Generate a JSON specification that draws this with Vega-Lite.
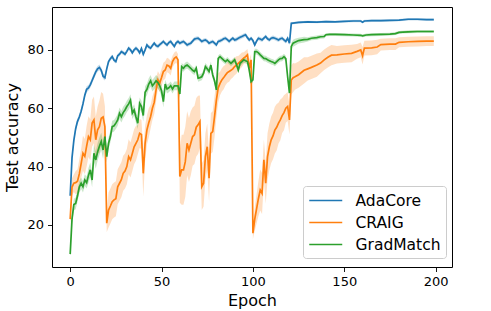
{
"$schema": "https://vega.github.io/schema/vega-lite/v6.json",
"width": 400, "height": 260,
"autosize": {"type": "none"},
"padding": {"left": 52, "top": 7, "right": 39, "bottom": 44},
"background": "white",
"config": {
  "view": {"stroke": "black", "strokeWidth": 1},
  "font": "DejaVu Sans",
  "axis": {"domain": false, "grid": false, "labelFontSize": 13, "labelColor": "black", "titleFontSize": 16, "titleFontWeight": "normal", "titleColor": "black", "tickColor": "black", "tickSize": 4.5, "tickWidth": 0.9, "labelPadding": 4, "labelFont": "DejaVu Sans", "titleFont": "DejaVu Sans"},
  "legend": {"labelFont": "DejaVu Sans"}
},
"data": {"values": [
{"s":"AdaCore","e":0,"m":30,"lo":29,"hi":31},
{"s":"AdaCore","e":1,"m":43,"lo":41.8,"hi":44.2},
{"s":"AdaCore","e":2,"m":49,"lo":47.8,"hi":50.2},
{"s":"AdaCore","e":3,"m":53,"lo":52,"hi":54},
{"s":"AdaCore","e":4,"m":55.5,"lo":54.5,"hi":56.5},
{"s":"AdaCore","e":5,"m":57,"lo":56,"hi":58},
{"s":"AdaCore","e":6,"m":59,"lo":58,"hi":60},
{"s":"AdaCore","e":7,"m":61.5,"lo":60.5,"hi":62.5},
{"s":"AdaCore","e":8,"m":64.5,"lo":63.5,"hi":65.5},
{"s":"AdaCore","e":9,"m":66.5,"lo":65.5,"hi":67.5},
{"s":"AdaCore","e":10,"m":67,"lo":66,"hi":68},
{"s":"AdaCore","e":11,"m":68,"lo":67,"hi":69},
{"s":"AdaCore","e":12,"m":69.5,"lo":68.5,"hi":70.5},
{"s":"AdaCore","e":13,"m":71,"lo":70,"hi":72},
{"s":"AdaCore","e":14,"m":72.5,"lo":71.5,"hi":73.5},
{"s":"AdaCore","e":15,"m":73.5,"lo":72.5,"hi":74.5},
{"s":"AdaCore","e":16,"m":74,"lo":73,"hi":75},
{"s":"AdaCore","e":17,"m":73,"lo":72,"hi":74},
{"s":"AdaCore","e":18,"m":71,"lo":70,"hi":72},
{"s":"AdaCore","e":19,"m":70.5,"lo":69.5,"hi":71.5},
{"s":"AdaCore","e":20,"m":73.5,"lo":72.5,"hi":74.5},
{"s":"AdaCore","e":21,"m":76,"lo":75.3,"hi":76.7},
{"s":"AdaCore","e":22,"m":77,"lo":76.3,"hi":77.7},
{"s":"AdaCore","e":23,"m":77.7,"lo":77,"hi":78.4},
{"s":"AdaCore","e":24,"m":76.5,"lo":75.8,"hi":77.2},
{"s":"AdaCore","e":25,"m":76,"lo":75.3,"hi":76.7},
{"s":"AdaCore","e":26,"m":78,"lo":77.3,"hi":78.7},
{"s":"AdaCore","e":27,"m":78.5,"lo":77.8,"hi":79.2},
{"s":"AdaCore","e":28,"m":79.4,"lo":78.7,"hi":80.1},
{"s":"AdaCore","e":29,"m":79,"lo":78.3,"hi":79.7},
{"s":"AdaCore","e":30,"m":78.5,"lo":77.8,"hi":79.2},
{"s":"AdaCore","e":31,"m":79.5,"lo":78.8,"hi":80.2},
{"s":"AdaCore","e":32,"m":80.6,"lo":79.9,"hi":81.3},
{"s":"AdaCore","e":33,"m":80,"lo":79.3,"hi":80.7},
{"s":"AdaCore","e":34,"m":79,"lo":78.3,"hi":79.7},
{"s":"AdaCore","e":35,"m":80,"lo":79.3,"hi":80.7},
{"s":"AdaCore","e":36,"m":80.6,"lo":79.9,"hi":81.3},
{"s":"AdaCore","e":37,"m":80,"lo":79.3,"hi":80.7},
{"s":"AdaCore","e":38,"m":79,"lo":78.3,"hi":79.7},
{"s":"AdaCore","e":39,"m":80.5,"lo":79.8,"hi":81.2},
{"s":"AdaCore","e":40,"m":78.5,"lo":77.8,"hi":79.2},
{"s":"AdaCore","e":41,"m":80,"lo":79.3,"hi":80.7},
{"s":"AdaCore","e":42,"m":81.7,"lo":81,"hi":82.4},
{"s":"AdaCore","e":43,"m":81,"lo":80.3,"hi":81.7},
{"s":"AdaCore","e":44,"m":80.6,"lo":79.9,"hi":81.3},
{"s":"AdaCore","e":45,"m":81.5,"lo":80.8,"hi":82.2},
{"s":"AdaCore","e":46,"m":82.3,"lo":81.6,"hi":83},
{"s":"AdaCore","e":47,"m":81.5,"lo":80.8,"hi":82.2},
{"s":"AdaCore","e":48,"m":81.2,"lo":80.5,"hi":81.9},
{"s":"AdaCore","e":49,"m":81.8,"lo":81.1,"hi":82.5},
{"s":"AdaCore","e":50,"m":82.3,"lo":81.6,"hi":83},
{"s":"AdaCore","e":51,"m":82.9,"lo":82.2,"hi":83.6},
{"s":"AdaCore","e":52,"m":82.2,"lo":81.5,"hi":82.9},
{"s":"AdaCore","e":53,"m":81.7,"lo":81,"hi":82.4},
{"s":"AdaCore","e":54,"m":82.5,"lo":81.8,"hi":83.2},
{"s":"AdaCore","e":55,"m":82.9,"lo":82.2,"hi":83.6},
{"s":"AdaCore","e":56,"m":82,"lo":81.3,"hi":82.7},
{"s":"AdaCore","e":57,"m":81.2,"lo":80.5,"hi":81.9},
{"s":"AdaCore","e":58,"m":82.4,"lo":81.7,"hi":83.1},
{"s":"AdaCore","e":59,"m":82.9,"lo":82.2,"hi":83.6},
{"s":"AdaCore","e":60,"m":82.3,"lo":81.6,"hi":83},
{"s":"AdaCore","e":61,"m":82.6,"lo":81.9,"hi":83.3},
{"s":"AdaCore","e":62,"m":82.9,"lo":82.2,"hi":83.6},
{"s":"AdaCore","e":63,"m":82.3,"lo":81.6,"hi":83},
{"s":"AdaCore","e":64,"m":81.7,"lo":81,"hi":82.4},
{"s":"AdaCore","e":65,"m":82,"lo":81.3,"hi":82.7},
{"s":"AdaCore","e":66,"m":82.3,"lo":81.6,"hi":83},
{"s":"AdaCore","e":67,"m":83,"lo":82.3,"hi":83.7},
{"s":"AdaCore","e":68,"m":83.7,"lo":83,"hi":84.4},
{"s":"AdaCore","e":69,"m":83.9,"lo":83.2,"hi":84.6},
{"s":"AdaCore","e":70,"m":84,"lo":83.3,"hi":84.7},
{"s":"AdaCore","e":71,"m":83.5,"lo":82.8,"hi":84.2},
{"s":"AdaCore","e":72,"m":82.9,"lo":82.2,"hi":83.6},
{"s":"AdaCore","e":73,"m":83.2,"lo":82.5,"hi":83.9},
{"s":"AdaCore","e":74,"m":83.4,"lo":82.7,"hi":84.1},
{"s":"AdaCore","e":75,"m":83,"lo":82.3,"hi":83.7},
{"s":"AdaCore","e":76,"m":82.3,"lo":81.6,"hi":83},
{"s":"AdaCore","e":77,"m":82.6,"lo":81.9,"hi":83.3},
{"s":"AdaCore","e":78,"m":82.9,"lo":82.2,"hi":83.6},
{"s":"AdaCore","e":79,"m":82.3,"lo":81.6,"hi":83},
{"s":"AdaCore","e":80,"m":81.7,"lo":81,"hi":82.4},
{"s":"AdaCore","e":81,"m":82.9,"lo":82.2,"hi":83.6},
{"s":"AdaCore","e":82,"m":83.1,"lo":82.4,"hi":83.8},
{"s":"AdaCore","e":83,"m":83.4,"lo":82.7,"hi":84.1},
{"s":"AdaCore","e":84,"m":83.8,"lo":83.1,"hi":84.5},
{"s":"AdaCore","e":85,"m":84,"lo":83.3,"hi":84.7},
{"s":"AdaCore","e":86,"m":83.5,"lo":82.8,"hi":84.2},
{"s":"AdaCore","e":87,"m":82.9,"lo":82.2,"hi":83.6},
{"s":"AdaCore","e":88,"m":83.5,"lo":82.8,"hi":84.2},
{"s":"AdaCore","e":89,"m":84,"lo":83.3,"hi":84.7},
{"s":"AdaCore","e":90,"m":83.4,"lo":82.7,"hi":84.1},
{"s":"AdaCore","e":91,"m":83.6,"lo":82.9,"hi":84.3},
{"s":"AdaCore","e":92,"m":84,"lo":83.3,"hi":84.7},
{"s":"AdaCore","e":93,"m":84.3,"lo":83.6,"hi":85},
{"s":"AdaCore","e":94,"m":84.6,"lo":83.9,"hi":85.3},
{"s":"AdaCore","e":95,"m":84.9,"lo":84.2,"hi":85.6},
{"s":"AdaCore","e":96,"m":85.2,"lo":84.5,"hi":85.9},
{"s":"AdaCore","e":97,"m":84.2,"lo":83.5,"hi":84.9},
{"s":"AdaCore","e":98,"m":83.4,"lo":82.7,"hi":84.1},
{"s":"AdaCore","e":99,"m":84,"lo":83.3,"hi":84.7},
{"s":"AdaCore","e":100,"m":83.2,"lo":82.5,"hi":83.9},
{"s":"AdaCore","e":101,"m":81.7,"lo":81,"hi":82.4},
{"s":"AdaCore","e":102,"m":83,"lo":82.3,"hi":83.7},
{"s":"AdaCore","e":103,"m":84,"lo":83.3,"hi":84.7},
{"s":"AdaCore","e":104,"m":83.7,"lo":83,"hi":84.4},
{"s":"AdaCore","e":105,"m":83.4,"lo":82.7,"hi":84.1},
{"s":"AdaCore","e":106,"m":84,"lo":83.3,"hi":84.7},
{"s":"AdaCore","e":107,"m":84.6,"lo":83.9,"hi":85.3},
{"s":"AdaCore","e":108,"m":83.8,"lo":83.1,"hi":84.5},
{"s":"AdaCore","e":109,"m":83.4,"lo":82.7,"hi":84.1},
{"s":"AdaCore","e":110,"m":84,"lo":83.3,"hi":84.7},
{"s":"AdaCore","e":111,"m":84.2,"lo":83.5,"hi":84.9},
{"s":"AdaCore","e":112,"m":84,"lo":83.3,"hi":84.7},
{"s":"AdaCore","e":113,"m":83.7,"lo":83,"hi":84.4},
{"s":"AdaCore","e":114,"m":83.4,"lo":82.7,"hi":84.1},
{"s":"AdaCore","e":115,"m":83.8,"lo":83.1,"hi":84.5},
{"s":"AdaCore","e":116,"m":84,"lo":83.3,"hi":84.7},
{"s":"AdaCore","e":117,"m":83.4,"lo":82.7,"hi":84.1},
{"s":"AdaCore","e":118,"m":82.9,"lo":82.2,"hi":83.6},
{"s":"AdaCore","e":119,"m":84,"lo":83.3,"hi":84.7},
{"s":"AdaCore","e":120,"m":82.3,"lo":81.6,"hi":83},
{"s":"AdaCore","e":121,"m":89.1,"lo":88.7,"hi":89.5},
{"s":"AdaCore","e":122,"m":89.2,"lo":88.8,"hi":89.6},
{"s":"AdaCore","e":125,"m":89.4,"lo":89,"hi":89.8},
{"s":"AdaCore","e":130,"m":89.6,"lo":89.2,"hi":90},
{"s":"AdaCore","e":135,"m":89.5,"lo":89.1,"hi":89.9},
{"s":"AdaCore","e":140,"m":89.7,"lo":89.3,"hi":90.1},
{"s":"AdaCore","e":145,"m":89.6,"lo":89.2,"hi":90},
{"s":"AdaCore","e":150,"m":89.8,"lo":89.4,"hi":90.2},
{"s":"AdaCore","e":155,"m":89.9,"lo":89.5,"hi":90.3},
{"s":"AdaCore","e":159,"m":89.9,"lo":89.5,"hi":90.3},
{"s":"AdaCore","e":160,"m":89.5,"lo":89.1,"hi":89.9},
{"s":"AdaCore","e":161,"m":89.9,"lo":89.5,"hi":90.3},
{"s":"AdaCore","e":165,"m":90,"lo":89.6,"hi":90.4},
{"s":"AdaCore","e":170,"m":90,"lo":89.6,"hi":90.4},
{"s":"AdaCore","e":175,"m":90.1,"lo":89.7,"hi":90.5},
{"s":"AdaCore","e":180,"m":90.2,"lo":89.8,"hi":90.6},
{"s":"AdaCore","e":185,"m":90.5,"lo":90.1,"hi":90.9},
{"s":"AdaCore","e":190,"m":90.5,"lo":90.1,"hi":90.9},
{"s":"AdaCore","e":195,"m":90.4,"lo":90,"hi":90.8},
{"s":"AdaCore","e":199,"m":90.4,"lo":90,"hi":90.8},
{"s":"CRAIG","e":0,"m":22,"lo":20,"hi":24},
{"s":"CRAIG","e":1,"m":33,"lo":30,"hi":36},
{"s":"CRAIG","e":2,"m":34.3,"lo":31.3,"hi":37.3},
{"s":"CRAIG","e":3,"m":34.5,"lo":30.5,"hi":38.5},
{"s":"CRAIG","e":4,"m":35,"lo":31,"hi":39},
{"s":"CRAIG","e":5,"m":37.5,"lo":32.5,"hi":42.5},
{"s":"CRAIG","e":6,"m":41,"lo":36,"hi":46},
{"s":"CRAIG","e":7,"m":44.6,"lo":38.6,"hi":50.6},
{"s":"CRAIG","e":8,"m":43.5,"lo":37.5,"hi":49.5},
{"s":"CRAIG","e":9,"m":47,"lo":40,"hi":54},
{"s":"CRAIG","e":10,"m":50.3,"lo":43.3,"hi":57.3},
{"s":"CRAIG","e":11,"m":49.2,"lo":42.2,"hi":56.2},
{"s":"CRAIG","e":12,"m":54.9,"lo":46.9,"hi":62.9},
{"s":"CRAIG","e":13,"m":56,"lo":48,"hi":64},
{"s":"CRAIG","e":14,"m":49.2,"lo":41.2,"hi":57.2},
{"s":"CRAIG","e":15,"m":52.6,"lo":44.6,"hi":60.6},
{"s":"CRAIG","e":16,"m":53.7,"lo":44.7,"hi":62.7},
{"s":"CRAIG","e":17,"m":56.6,"lo":47.6,"hi":65.6},
{"s":"CRAIG","e":18,"m":57,"lo":49,"hi":65},
{"s":"CRAIG","e":19,"m":53.7,"lo":46.7,"hi":60.7},
{"s":"CRAIG","e":20,"m":20.6,"lo":17.6,"hi":23.6},
{"s":"CRAIG","e":21,"m":25.1,"lo":19.1,"hi":31.1},
{"s":"CRAIG","e":22,"m":26.5,"lo":20.5,"hi":32.5},
{"s":"CRAIG","e":23,"m":28,"lo":22,"hi":34},
{"s":"CRAIG","e":24,"m":28.6,"lo":22.6,"hi":34.6},
{"s":"CRAIG","e":25,"m":29,"lo":23,"hi":35},
{"s":"CRAIG","e":26,"m":33.1,"lo":27.1,"hi":39.1},
{"s":"CRAIG","e":27,"m":34.3,"lo":28.3,"hi":40.3},
{"s":"CRAIG","e":28,"m":35.5,"lo":29.5,"hi":41.5},
{"s":"CRAIG","e":29,"m":37.7,"lo":31.7,"hi":43.7},
{"s":"CRAIG","e":30,"m":38.5,"lo":32.5,"hi":44.5},
{"s":"CRAIG","e":31,"m":40,"lo":34,"hi":46},
{"s":"CRAIG","e":32,"m":43.4,"lo":37.4,"hi":49.4},
{"s":"CRAIG","e":33,"m":42.3,"lo":36.3,"hi":48.3},
{"s":"CRAIG","e":34,"m":44.5,"lo":38.5,"hi":50.5},
{"s":"CRAIG","e":35,"m":46.8,"lo":40.8,"hi":52.8},
{"s":"CRAIG","e":36,"m":48,"lo":42,"hi":54},
{"s":"CRAIG","e":37,"m":49.2,"lo":44.2,"hi":54.2},
{"s":"CRAIG","e":38,"m":51.4,"lo":46.4,"hi":56.4},
{"s":"CRAIG","e":39,"m":51,"lo":46,"hi":56},
{"s":"CRAIG","e":40,"m":37.7,"lo":29.7,"hi":45.7},
{"s":"CRAIG","e":41,"m":48,"lo":42,"hi":54},
{"s":"CRAIG","e":42,"m":52.6,"lo":47.6,"hi":57.6},
{"s":"CRAIG","e":43,"m":55,"lo":50,"hi":60},
{"s":"CRAIG","e":44,"m":57.1,"lo":53.1,"hi":61.1},
{"s":"CRAIG","e":45,"m":60,"lo":56,"hi":64},
{"s":"CRAIG","e":46,"m":62,"lo":58,"hi":66},
{"s":"CRAIG","e":47,"m":66.3,"lo":62.3,"hi":70.3},
{"s":"CRAIG","e":48,"m":69.7,"lo":66.7,"hi":72.7},
{"s":"CRAIG","e":49,"m":68.6,"lo":65.6,"hi":71.6},
{"s":"CRAIG","e":50,"m":70.5,"lo":67.5,"hi":73.5},
{"s":"CRAIG","e":51,"m":72.6,"lo":69.6,"hi":75.6},
{"s":"CRAIG","e":52,"m":73.1,"lo":70.1,"hi":76.1},
{"s":"CRAIG","e":53,"m":74.8,"lo":72.3,"hi":77.3},
{"s":"CRAIG","e":54,"m":74.5,"lo":72,"hi":77},
{"s":"CRAIG","e":55,"m":73.7,"lo":71.2,"hi":76.2},
{"s":"CRAIG","e":56,"m":76,"lo":74,"hi":78},
{"s":"CRAIG","e":57,"m":77.1,"lo":75.1,"hi":79.1},
{"s":"CRAIG","e":58,"m":77.6,"lo":75.6,"hi":79.6},
{"s":"CRAIG","e":59,"m":76.6,"lo":74.6,"hi":78.6},
{"s":"CRAIG","e":60,"m":36.6,"lo":27.6,"hi":45.6},
{"s":"CRAIG","e":61,"m":38.9,"lo":26.9,"hi":50.9},
{"s":"CRAIG","e":62,"m":38.9,"lo":26.9,"hi":50.9},
{"s":"CRAIG","e":63,"m":41.7,"lo":29.7,"hi":53.7},
{"s":"CRAIG","e":64,"m":48,"lo":37,"hi":59},
{"s":"CRAIG","e":65,"m":45.7,"lo":34.7,"hi":56.7},
{"s":"CRAIG","e":66,"m":48,"lo":37,"hi":59},
{"s":"CRAIG","e":67,"m":50.3,"lo":40.3,"hi":60.3},
{"s":"CRAIG","e":68,"m":50.9,"lo":40.9,"hi":60.9},
{"s":"CRAIG","e":69,"m":53.5,"lo":43.5,"hi":63.5},
{"s":"CRAIG","e":70,"m":54.3,"lo":44.3,"hi":64.3},
{"s":"CRAIG","e":71,"m":55.4,"lo":46.4,"hi":64.4},
{"s":"CRAIG","e":72,"m":33.1,"lo":25.1,"hi":41.1},
{"s":"CRAIG","e":73,"m":34.3,"lo":26.3,"hi":42.3},
{"s":"CRAIG","e":74,"m":43.4,"lo":35.4,"hi":51.4},
{"s":"CRAIG","e":75,"m":46.8,"lo":38.8,"hi":54.8},
{"s":"CRAIG","e":76,"m":36,"lo":28,"hi":44},
{"s":"CRAIG","e":77,"m":51.4,"lo":44.4,"hi":58.4},
{"s":"CRAIG","e":78,"m":52,"lo":45,"hi":59},
{"s":"CRAIG","e":79,"m":57.1,"lo":50.1,"hi":64.1},
{"s":"CRAIG","e":80,"m":62.8,"lo":56.8,"hi":68.8},
{"s":"CRAIG","e":81,"m":67,"lo":62,"hi":72},
{"s":"CRAIG","e":82,"m":68.5,"lo":64.5,"hi":72.5},
{"s":"CRAIG","e":83,"m":69.7,"lo":65.7,"hi":73.7},
{"s":"CRAIG","e":84,"m":70.5,"lo":66.5,"hi":74.5},
{"s":"CRAIG","e":85,"m":71.4,"lo":67.9,"hi":74.9},
{"s":"CRAIG","e":86,"m":72.2,"lo":68.7,"hi":75.7},
{"s":"CRAIG","e":87,"m":72.6,"lo":69.1,"hi":76.1},
{"s":"CRAIG","e":88,"m":73,"lo":70,"hi":76},
{"s":"CRAIG","e":89,"m":73.5,"lo":70.5,"hi":76.5},
{"s":"CRAIG","e":90,"m":74.3,"lo":71.3,"hi":77.3},
{"s":"CRAIG","e":91,"m":74.8,"lo":71.8,"hi":77.8},
{"s":"CRAIG","e":92,"m":75.4,"lo":72.9,"hi":77.9},
{"s":"CRAIG","e":93,"m":76,"lo":73.5,"hi":78.5},
{"s":"CRAIG","e":94,"m":76.6,"lo":74.1,"hi":79.1},
{"s":"CRAIG","e":95,"m":77.2,"lo":75.2,"hi":79.2},
{"s":"CRAIG","e":96,"m":77.7,"lo":75.7,"hi":79.7},
{"s":"CRAIG","e":97,"m":78.3,"lo":76.3,"hi":80.3},
{"s":"CRAIG","e":98,"m":73.7,"lo":70.7,"hi":76.7},
{"s":"CRAIG","e":99,"m":76.6,"lo":74.6,"hi":78.6},
{"s":"CRAIG","e":100,"m":17.2,"lo":15.2,"hi":19.2},
{"s":"CRAIG","e":101,"m":22,"lo":18,"hi":26},
{"s":"CRAIG","e":102,"m":25.5,"lo":20.5,"hi":30.5},
{"s":"CRAIG","e":103,"m":29,"lo":23,"hi":35},
{"s":"CRAIG","e":104,"m":32,"lo":25,"hi":39},
{"s":"CRAIG","e":105,"m":30.8,"lo":23.8,"hi":37.8},
{"s":"CRAIG","e":106,"m":42.3,"lo":35.3,"hi":49.3},
{"s":"CRAIG","e":107,"m":34.3,"lo":27.3,"hi":41.3},
{"s":"CRAIG","e":108,"m":43.4,"lo":35.4,"hi":51.4},
{"s":"CRAIG","e":109,"m":46.8,"lo":38.8,"hi":54.8},
{"s":"CRAIG","e":110,"m":49.2,"lo":41.2,"hi":57.2},
{"s":"CRAIG","e":111,"m":50.5,"lo":42.5,"hi":58.5},
{"s":"CRAIG","e":112,"m":52.5,"lo":44.5,"hi":60.5},
{"s":"CRAIG","e":113,"m":53.5,"lo":45.5,"hi":61.5},
{"s":"CRAIG","e":114,"m":54.9,"lo":47.9,"hi":61.9},
{"s":"CRAIG","e":115,"m":56,"lo":49,"hi":63},
{"s":"CRAIG","e":116,"m":57.5,"lo":51.5,"hi":63.5},
{"s":"CRAIG","e":117,"m":58.5,"lo":52.5,"hi":64.5},
{"s":"CRAIG","e":118,"m":60,"lo":55,"hi":65},
{"s":"CRAIG","e":119,"m":60.6,"lo":55.6,"hi":65.6},
{"s":"CRAIG","e":120,"m":56,"lo":51,"hi":61},
{"s":"CRAIG","e":121,"m":69.7,"lo":64.7,"hi":74.7},
{"s":"CRAIG","e":122,"m":70.5,"lo":65.5,"hi":75.5},
{"s":"CRAIG","e":123,"m":70.8,"lo":66.3,"hi":75.3},
{"s":"CRAIG","e":125,"m":71.5,"lo":67,"hi":76},
{"s":"CRAIG","e":128,"m":73,"lo":68.5,"hi":77.5},
{"s":"CRAIG","e":130,"m":73.5,"lo":69.5,"hi":77.5},
{"s":"CRAIG","e":132,"m":74,"lo":70,"hi":78},
{"s":"CRAIG","e":135,"m":74.8,"lo":70.8,"hi":78.8},
{"s":"CRAIG","e":137,"m":75.5,"lo":72,"hi":79},
{"s":"CRAIG","e":139,"m":76.6,"lo":73.1,"hi":80.1},
{"s":"CRAIG","e":141,"m":77.5,"lo":74,"hi":81},
{"s":"CRAIG","e":143,"m":78.2,"lo":74.7,"hi":81.7},
{"s":"CRAIG","e":146,"m":78.3,"lo":75.3,"hi":81.3},
{"s":"CRAIG","e":150,"m":78.6,"lo":75.6,"hi":81.6},
{"s":"CRAIG","e":154,"m":78.8,"lo":75.8,"hi":81.8},
{"s":"CRAIG","e":157,"m":79.5,"lo":77,"hi":82},
{"s":"CRAIG","e":159,"m":80,"lo":77.5,"hi":82.5},
{"s":"CRAIG","e":160,"m":78,"lo":75,"hi":81},
{"s":"CRAIG","e":161,"m":80.6,"lo":78.1,"hi":83.1},
{"s":"CRAIG","e":165,"m":80.7,"lo":78.2,"hi":83.2},
{"s":"CRAIG","e":168,"m":81,"lo":78.5,"hi":83.5},
{"s":"CRAIG","e":170,"m":81.8,"lo":79.8,"hi":83.8},
{"s":"CRAIG","e":175,"m":82,"lo":80,"hi":84},
{"s":"CRAIG","e":178,"m":82,"lo":80,"hi":84},
{"s":"CRAIG","e":180,"m":82.6,"lo":80.9,"hi":84.3},
{"s":"CRAIG","e":185,"m":82.8,"lo":81.1,"hi":84.5},
{"s":"CRAIG","e":190,"m":82.9,"lo":81.2,"hi":84.6},
{"s":"CRAIG","e":195,"m":83,"lo":81.3,"hi":84.7},
{"s":"CRAIG","e":199,"m":83,"lo":81.3,"hi":84.7},
{"s":"GradMatch","e":0,"m":10,"lo":9.5,"hi":10.5},
{"s":"GradMatch","e":1,"m":22,"lo":20.5,"hi":23.5},
{"s":"GradMatch","e":2,"m":27,"lo":25,"hi":29},
{"s":"GradMatch","e":3,"m":27.4,"lo":25.4,"hi":29.4},
{"s":"GradMatch","e":4,"m":30,"lo":28,"hi":32},
{"s":"GradMatch","e":5,"m":33,"lo":31,"hi":35},
{"s":"GradMatch","e":6,"m":34.3,"lo":32.3,"hi":36.3},
{"s":"GradMatch","e":7,"m":33.1,"lo":31.1,"hi":35.1},
{"s":"GradMatch","e":8,"m":35.4,"lo":33.4,"hi":37.4},
{"s":"GradMatch","e":9,"m":34.5,"lo":32.5,"hi":36.5},
{"s":"GradMatch","e":10,"m":37,"lo":34.5,"hi":39.5},
{"s":"GradMatch","e":11,"m":38.9,"lo":36.4,"hi":41.4},
{"s":"GradMatch","e":12,"m":35.4,"lo":32.9,"hi":37.9},
{"s":"GradMatch","e":13,"m":44.6,"lo":41.6,"hi":47.6},
{"s":"GradMatch","e":14,"m":42.3,"lo":39.3,"hi":45.3},
{"s":"GradMatch","e":15,"m":45,"lo":42,"hi":48},
{"s":"GradMatch","e":16,"m":47,"lo":44,"hi":50},
{"s":"GradMatch","e":17,"m":48.6,"lo":45.6,"hi":51.6},
{"s":"GradMatch","e":18,"m":45.7,"lo":42.7,"hi":48.7},
{"s":"GradMatch","e":19,"m":50.3,"lo":47.3,"hi":53.3},
{"s":"GradMatch","e":20,"m":43.4,"lo":41.4,"hi":45.4},
{"s":"GradMatch","e":21,"m":48,"lo":46,"hi":50},
{"s":"GradMatch","e":22,"m":50.3,"lo":48.3,"hi":52.3},
{"s":"GradMatch","e":23,"m":53.7,"lo":51.7,"hi":55.7},
{"s":"GradMatch","e":24,"m":54,"lo":52,"hi":56},
{"s":"GradMatch","e":25,"m":54.9,"lo":52.9,"hi":56.9},
{"s":"GradMatch","e":26,"m":56,"lo":54,"hi":58},
{"s":"GradMatch","e":27,"m":58.3,"lo":56.3,"hi":60.3},
{"s":"GradMatch","e":28,"m":57.1,"lo":55.1,"hi":59.1},
{"s":"GradMatch","e":29,"m":58.5,"lo":56.5,"hi":60.5},
{"s":"GradMatch","e":30,"m":59.4,"lo":57.4,"hi":61.4},
{"s":"GradMatch","e":31,"m":60.6,"lo":58.6,"hi":62.6},
{"s":"GradMatch","e":32,"m":61.5,"lo":59.5,"hi":63.5},
{"s":"GradMatch","e":33,"m":62.8,"lo":60.8,"hi":64.8},
{"s":"GradMatch","e":34,"m":58.3,"lo":56.3,"hi":60.3},
{"s":"GradMatch","e":35,"m":59.4,"lo":57.4,"hi":61.4},
{"s":"GradMatch","e":36,"m":57,"lo":55,"hi":59},
{"s":"GradMatch","e":37,"m":54.9,"lo":52.9,"hi":56.9},
{"s":"GradMatch","e":38,"m":61.7,"lo":59.7,"hi":63.7},
{"s":"GradMatch","e":39,"m":60.6,"lo":58.6,"hi":62.6},
{"s":"GradMatch","e":40,"m":57.5,"lo":55.5,"hi":59.5},
{"s":"GradMatch","e":41,"m":65.5,"lo":63.5,"hi":67.5},
{"s":"GradMatch","e":42,"m":66.5,"lo":64.5,"hi":68.5},
{"s":"GradMatch","e":43,"m":68.3,"lo":66.3,"hi":70.3},
{"s":"GradMatch","e":44,"m":69.4,"lo":67.4,"hi":71.4},
{"s":"GradMatch","e":45,"m":67.7,"lo":65.7,"hi":69.7},
{"s":"GradMatch","e":46,"m":68.5,"lo":66.5,"hi":70.5},
{"s":"GradMatch","e":47,"m":69.4,"lo":67.4,"hi":71.4},
{"s":"GradMatch","e":48,"m":68.8,"lo":66.8,"hi":70.8},
{"s":"GradMatch","e":49,"m":67.7,"lo":65.7,"hi":69.7},
{"s":"GradMatch","e":50,"m":66,"lo":64,"hi":68},
{"s":"GradMatch","e":51,"m":62.3,"lo":60.3,"hi":64.3},
{"s":"GradMatch","e":52,"m":68.3,"lo":66.8,"hi":69.8},
{"s":"GradMatch","e":53,"m":66.6,"lo":65.1,"hi":68.1},
{"s":"GradMatch","e":54,"m":67,"lo":65.5,"hi":68.5},
{"s":"GradMatch","e":55,"m":67.7,"lo":66.2,"hi":69.2},
{"s":"GradMatch","e":56,"m":66.6,"lo":65.1,"hi":68.1},
{"s":"GradMatch","e":57,"m":67.7,"lo":66.2,"hi":69.2},
{"s":"GradMatch","e":58,"m":67.7,"lo":66.2,"hi":69.2},
{"s":"GradMatch","e":59,"m":67.7,"lo":66.2,"hi":69.2},
{"s":"GradMatch","e":60,"m":64.9,"lo":63.4,"hi":66.4},
{"s":"GradMatch","e":61,"m":74.3,"lo":73.1,"hi":75.5},
{"s":"GradMatch","e":62,"m":73.7,"lo":72.5,"hi":74.9},
{"s":"GradMatch","e":63,"m":74.5,"lo":73.3,"hi":75.7},
{"s":"GradMatch","e":64,"m":74.8,"lo":73.6,"hi":76},
{"s":"GradMatch","e":65,"m":74.3,"lo":73.1,"hi":75.5},
{"s":"GradMatch","e":66,"m":73.7,"lo":72.5,"hi":74.9},
{"s":"GradMatch","e":67,"m":73,"lo":71.8,"hi":74.2},
{"s":"GradMatch","e":68,"m":72.6,"lo":71.4,"hi":73.8},
{"s":"GradMatch","e":69,"m":73.7,"lo":72.5,"hi":74.9},
{"s":"GradMatch","e":70,"m":70.3,"lo":69.1,"hi":71.5},
{"s":"GradMatch","e":71,"m":70.5,"lo":69.3,"hi":71.7},
{"s":"GradMatch","e":72,"m":70.8,"lo":69.6,"hi":72},
{"s":"GradMatch","e":73,"m":72,"lo":70.8,"hi":73.2},
{"s":"GradMatch","e":74,"m":74.3,"lo":73.1,"hi":75.5},
{"s":"GradMatch","e":75,"m":73.5,"lo":72.3,"hi":74.7},
{"s":"GradMatch","e":76,"m":72.6,"lo":71.4,"hi":73.8},
{"s":"GradMatch","e":77,"m":74.8,"lo":73.6,"hi":76},
{"s":"GradMatch","e":78,"m":71.4,"lo":70.2,"hi":72.6},
{"s":"GradMatch","e":79,"m":69.4,"lo":68.2,"hi":70.6},
{"s":"GradMatch","e":80,"m":66.3,"lo":65.1,"hi":67.5},
{"s":"GradMatch","e":81,"m":77.1,"lo":76.1,"hi":78.1},
{"s":"GradMatch","e":82,"m":77.7,"lo":76.7,"hi":78.7},
{"s":"GradMatch","e":83,"m":77.1,"lo":76.1,"hi":78.1},
{"s":"GradMatch","e":84,"m":76.5,"lo":75.5,"hi":77.5},
{"s":"GradMatch","e":85,"m":76,"lo":75,"hi":77},
{"s":"GradMatch","e":86,"m":76.6,"lo":75.6,"hi":77.6},
{"s":"GradMatch","e":87,"m":76,"lo":75,"hi":77},
{"s":"GradMatch","e":88,"m":75.4,"lo":74.4,"hi":76.4},
{"s":"GradMatch","e":89,"m":76,"lo":75,"hi":77},
{"s":"GradMatch","e":90,"m":76.6,"lo":75.6,"hi":77.6},
{"s":"GradMatch","e":91,"m":75,"lo":74,"hi":76},
{"s":"GradMatch","e":92,"m":73.1,"lo":72.1,"hi":74.1},
{"s":"GradMatch","e":93,"m":75.4,"lo":74.4,"hi":76.4},
{"s":"GradMatch","e":94,"m":76,"lo":75,"hi":77},
{"s":"GradMatch","e":95,"m":76.6,"lo":75.6,"hi":77.6},
{"s":"GradMatch","e":96,"m":76.3,"lo":75.3,"hi":77.3},
{"s":"GradMatch","e":97,"m":76,"lo":75,"hi":77},
{"s":"GradMatch","e":98,"m":73.1,"lo":72.1,"hi":74.1},
{"s":"GradMatch","e":99,"m":69.1,"lo":68.1,"hi":70.1},
{"s":"GradMatch","e":100,"m":69.7,"lo":68.7,"hi":70.7},
{"s":"GradMatch","e":101,"m":79.4,"lo":78.4,"hi":80.4},
{"s":"GradMatch","e":102,"m":79.4,"lo":78.4,"hi":80.4},
{"s":"GradMatch","e":103,"m":79,"lo":78,"hi":80},
{"s":"GradMatch","e":104,"m":78.3,"lo":77.3,"hi":79.3},
{"s":"GradMatch","e":105,"m":77.7,"lo":76.7,"hi":78.7},
{"s":"GradMatch","e":106,"m":77.1,"lo":76.1,"hi":78.1},
{"s":"GradMatch","e":107,"m":77,"lo":76,"hi":78},
{"s":"GradMatch","e":108,"m":76.6,"lo":75.6,"hi":77.6},
{"s":"GradMatch","e":109,"m":76.3,"lo":75.3,"hi":77.3},
{"s":"GradMatch","e":110,"m":76,"lo":75,"hi":77},
{"s":"GradMatch","e":111,"m":75.8,"lo":74.8,"hi":76.8},
{"s":"GradMatch","e":112,"m":75.4,"lo":74.4,"hi":76.4},
{"s":"GradMatch","e":113,"m":76,"lo":75,"hi":77},
{"s":"GradMatch","e":114,"m":76.6,"lo":75.6,"hi":77.6},
{"s":"GradMatch","e":115,"m":77,"lo":76,"hi":78},
{"s":"GradMatch","e":116,"m":77.1,"lo":76.1,"hi":78.1},
{"s":"GradMatch","e":117,"m":77.7,"lo":76.7,"hi":78.7},
{"s":"GradMatch","e":118,"m":77,"lo":76,"hi":78},
{"s":"GradMatch","e":119,"m":70.8,"lo":69.8,"hi":71.8},
{"s":"GradMatch","e":120,"m":65.2,"lo":64.2,"hi":66.2},
{"s":"GradMatch","e":121,"m":81.2,"lo":80,"hi":82.4},
{"s":"GradMatch","e":122,"m":82.3,"lo":81.1,"hi":83.5},
{"s":"GradMatch","e":123,"m":82.6,"lo":81.4,"hi":83.8},
{"s":"GradMatch","e":125,"m":83.2,"lo":82.2,"hi":84.2},
{"s":"GradMatch","e":128,"m":83.5,"lo":82.5,"hi":84.5},
{"s":"GradMatch","e":130,"m":83.6,"lo":82.9,"hi":84.3},
{"s":"GradMatch","e":132,"m":84,"lo":83.3,"hi":84.7},
{"s":"GradMatch","e":135,"m":84.2,"lo":83.5,"hi":84.9},
{"s":"GradMatch","e":137,"m":84.5,"lo":83.8,"hi":85.2},
{"s":"GradMatch","e":139,"m":84.6,"lo":83.9,"hi":85.3},
{"s":"GradMatch","e":140,"m":85.2,"lo":84.7,"hi":85.7},
{"s":"GradMatch","e":142,"m":85.3,"lo":84.8,"hi":85.8},
{"s":"GradMatch","e":145,"m":85.3,"lo":84.8,"hi":85.8},
{"s":"GradMatch","e":150,"m":85.2,"lo":84.7,"hi":85.7},
{"s":"GradMatch","e":155,"m":85.1,"lo":84.6,"hi":85.6},
{"s":"GradMatch","e":159,"m":85,"lo":84.5,"hi":85.5},
{"s":"GradMatch","e":160,"m":84.8,"lo":84.3,"hi":85.3},
{"s":"GradMatch","e":162,"m":85.1,"lo":84.6,"hi":85.6},
{"s":"GradMatch","e":165,"m":85.2,"lo":84.7,"hi":85.7},
{"s":"GradMatch","e":170,"m":85.3,"lo":84.8,"hi":85.8},
{"s":"GradMatch","e":175,"m":85.4,"lo":84.9,"hi":85.9},
{"s":"GradMatch","e":178,"m":85.6,"lo":85.1,"hi":86.1},
{"s":"GradMatch","e":180,"m":86,"lo":85.5,"hi":86.5},
{"s":"GradMatch","e":182,"m":86.1,"lo":85.6,"hi":86.6},
{"s":"GradMatch","e":185,"m":86.2,"lo":85.7,"hi":86.7},
{"s":"GradMatch","e":190,"m":86.3,"lo":85.8,"hi":86.8},
{"s":"GradMatch","e":195,"m":86.3,"lo":85.8,"hi":86.8},
{"s":"GradMatch","e":199,"m":86.3,"lo":85.8,"hi":86.8}
]},
"encoding": {
  "x": {"field": "e", "type": "quantitative", "scale": {"domain": [-9.95, 208.95], "nice": false, "zero": false}, "axis": {"values": [0, 50, 100, 150, 200], "title": "Epoch", "titlePadding": 4}}
},
"layer": [
  {"mark": {"type": "area", "opacity": 0.25, "interpolate": "linear"},
   "encoding": {
     "y": {"field": "lo", "type": "quantitative", "scale": {"domain": [5.6, 94.7], "nice": false, "zero": false}, "axis": {"values": [20, 40, 60, 80], "title": "Test accuracy", "titlePadding": 6}},
     "y2": {"field": "hi"},
     "color": {"field": "s", "type": "nominal", "scale": {"domain": ["AdaCore", "CRAIG", "GradMatch"], "range": ["#1f77b4", "#ff7f0e", "#2ca02c"]},
       "legend": {"title": null, "orient": "none", "legendX": 251, "legendY": 179, "symbolType": "M-1,0H3", "symbolSize": 272, "symbolStrokeWidth": 1.6, "symbolOpacity": 1, "labelFontSize": 15.5, "labelColor": "black", "labelOffset": 28.5, "rowPadding": 4, "padding": 5, "strokeColor": "#cccccc", "fillColor": "white", "cornerRadius": 3}}
   }},
  {"mark": {"type": "line", "strokeWidth": 1.7, "interpolate": "linear"},
   "encoding": {
     "y": {"field": "m", "type": "quantitative", "axis": {"values": [20, 40, 60, 80], "title": "Test accuracy", "titlePadding": 6}},
     "color": {"field": "s", "type": "nominal", "scale": {"domain": ["AdaCore", "CRAIG", "GradMatch"], "range": ["#1f77b4", "#ff7f0e", "#2ca02c"]},
       "legend": {"title": null, "orient": "none", "legendX": 251, "legendY": 179, "symbolType": "M-1,0H3", "symbolSize": 272, "symbolStrokeWidth": 1.6, "symbolOpacity": 1, "labelFontSize": 15.5, "labelColor": "black", "labelOffset": 28.5, "rowPadding": 4, "padding": 5, "strokeColor": "#cccccc", "fillColor": "white", "cornerRadius": 3}}
   }}
]
}
